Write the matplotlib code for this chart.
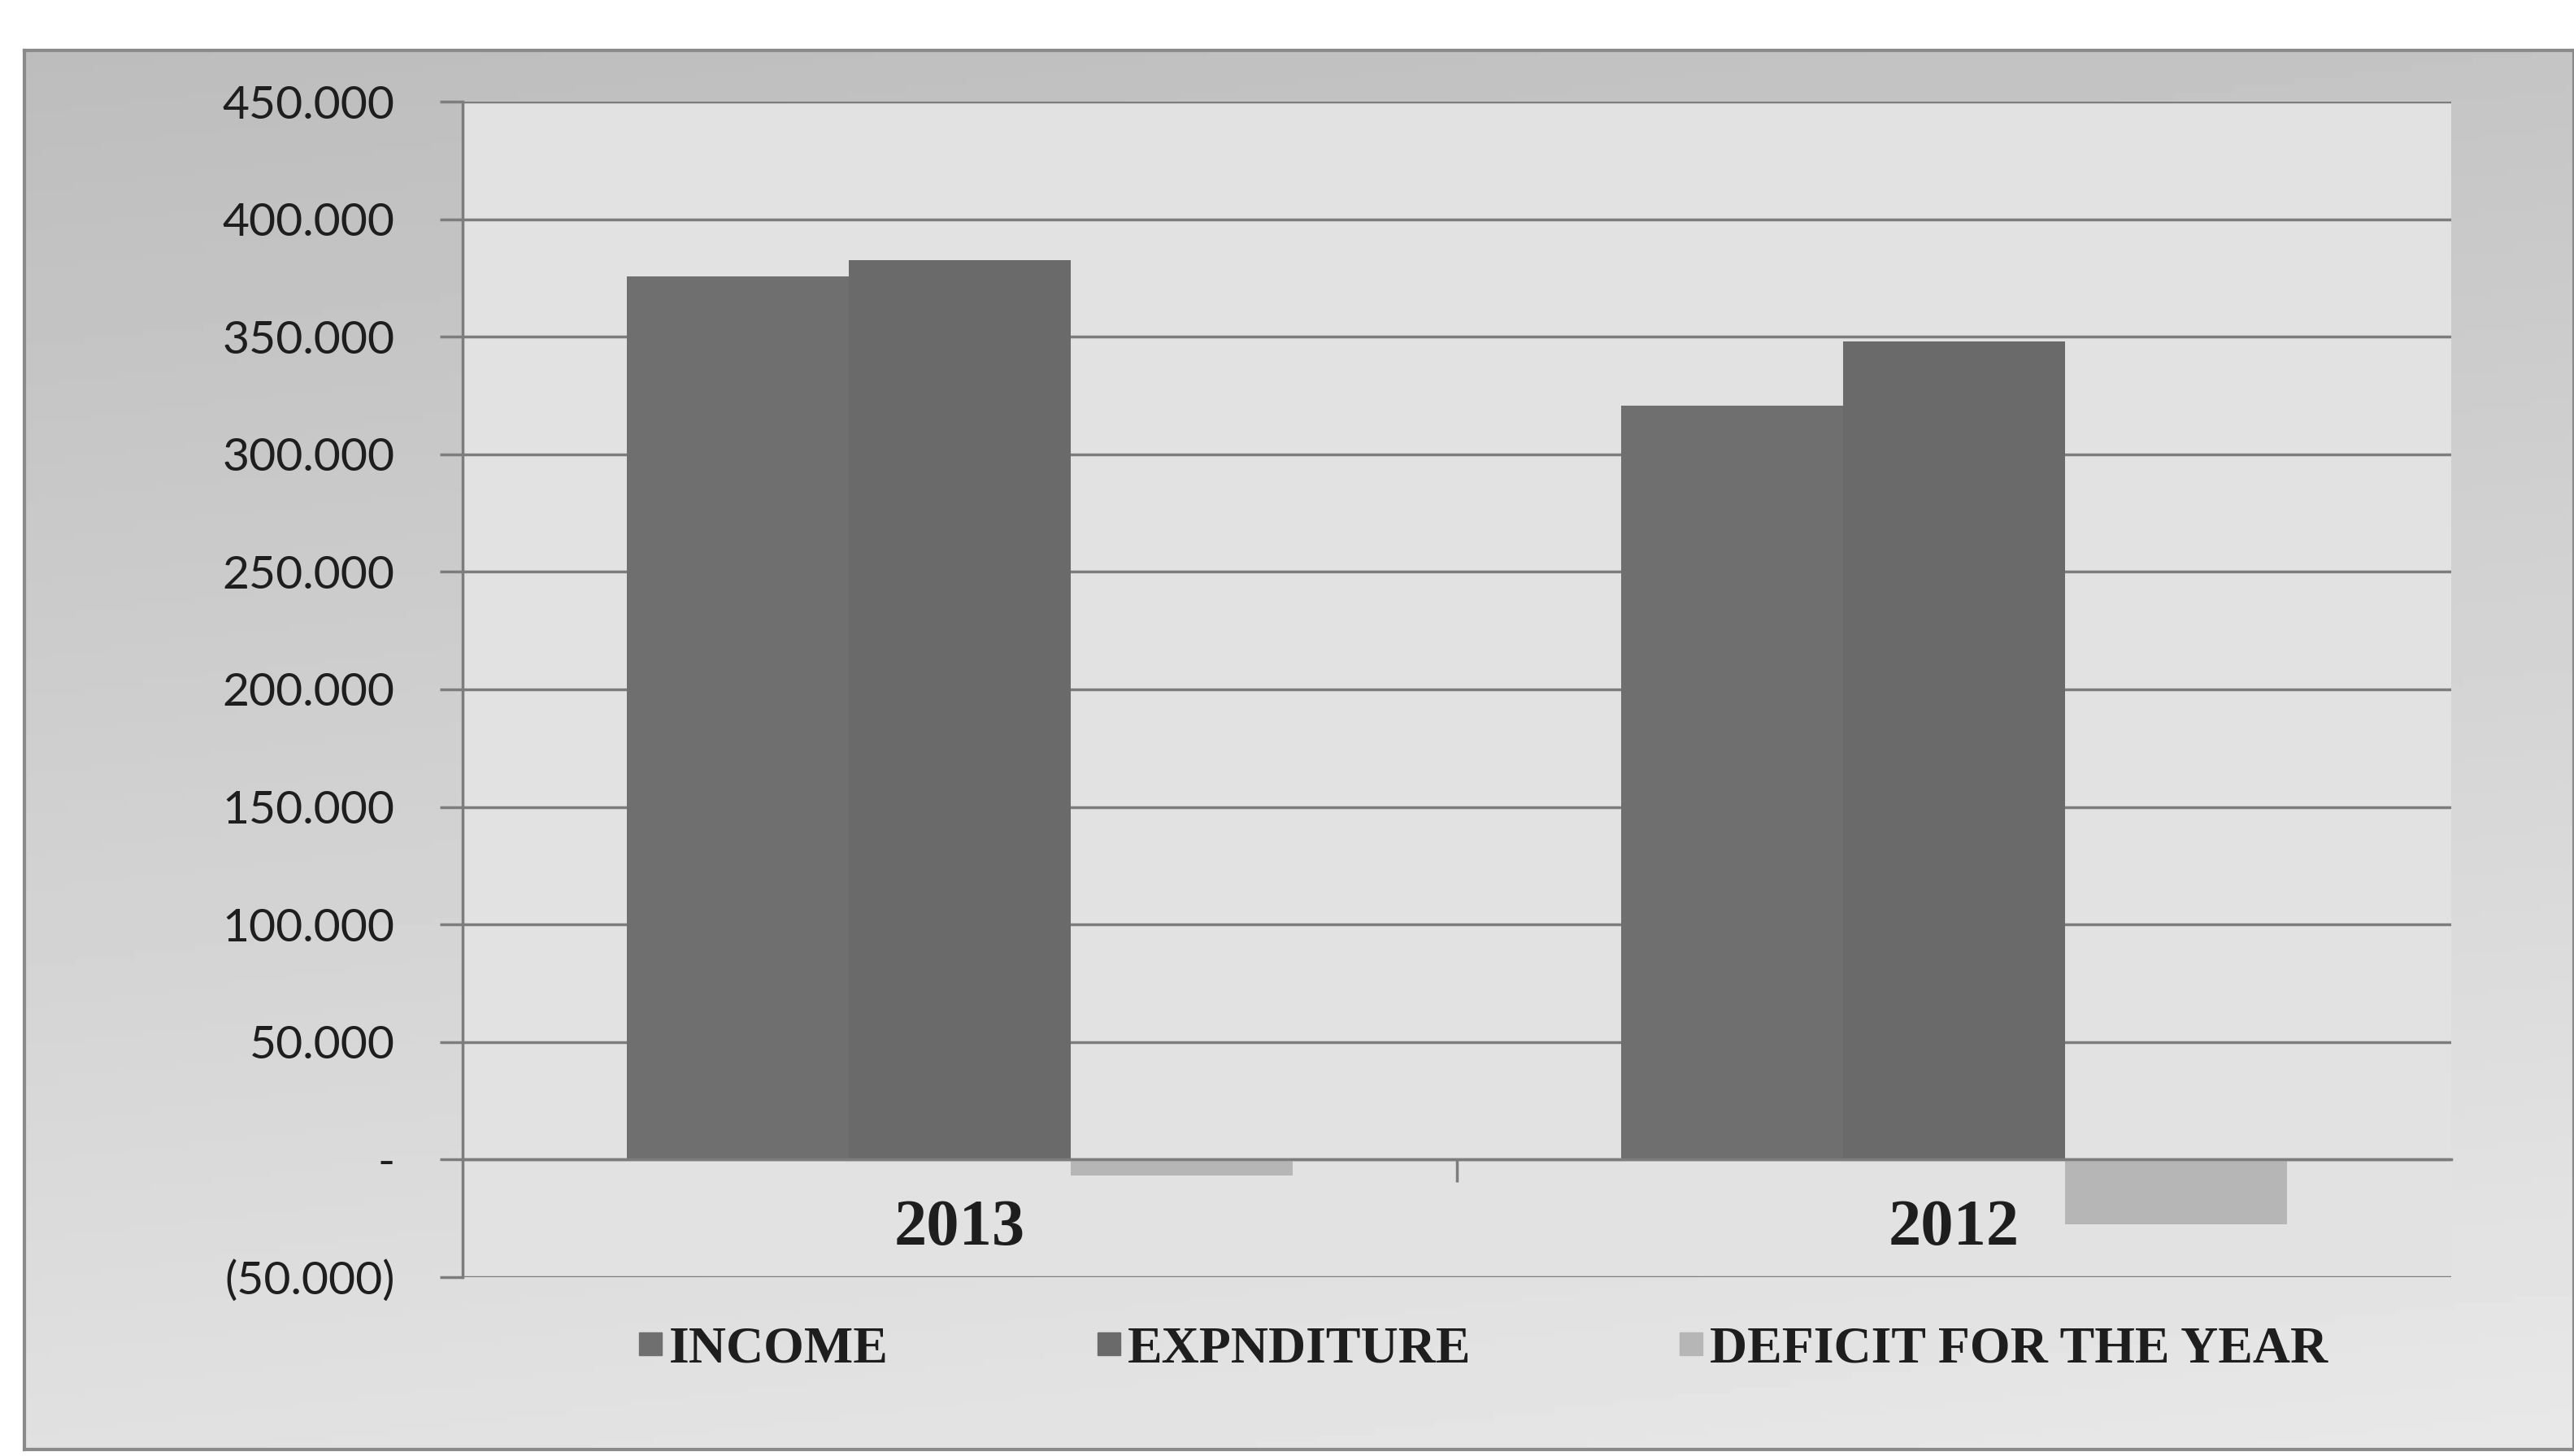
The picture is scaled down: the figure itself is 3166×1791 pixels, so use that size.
import numpy as np
import matplotlib
matplotlib.use("Agg")
import matplotlib.pyplot as plt
from matplotlib.lines import Line2D

categories = ["2013", "2012"]
series_names = ["INCOME", "EXPNDITURE", "DEFICIT FOR THE YEAR"]
income = [375.7, 320.6]
expenditure = [382.6, 348.0]
deficit = [-6.9, -27.4]
yticks = [-50, 0, 50, 100, 150, 200, 250, 300, 350, 400, 450]
ytick_labels = ["(50.000)", "-", "50.000", "100.000", "150.000", "200.000",
                "250.000", "300.000", "350.000", "400.000", "450.000"]

colors = ["#6f6f6f", "#6a6a6a", "#b6b6b6"]

W, H = 3166, 1791
fig = plt.figure(figsize=(W / 100, H / 100), dpi=100, facecolor="white")

# background panel with gradient
bg = fig.add_axes([30 / W, 8 / H, (W - 30) / W, (H - 62 - 8) / H])
gy = np.linspace(0, 1, 200)[:, None]
gx = np.linspace(0, 1, 300)[None, :]
grad = 0.74 + 0.14 * gy + 0.03 * gx
bg.imshow(grad, cmap="gray", vmin=0, vmax=1, aspect="auto",
          extent=[0, 1, 0, 1], origin="upper")
bg.set_xlim(0, 1)
bg.set_ylim(0, 1)
bg.set_xticks([])
bg.set_yticks([])
for s in bg.spines.values():
    s.set_color("#8a8a8a")
    s.set_linewidth(3)

ax = fig.add_axes([569 / W, 1 - 1571 / H, (3015 - 569) / W, (1571 - 125) / H])
ax.set_facecolor("#e2e2e2")

x = np.arange(len(categories))
w = 0.223
ax.bar(x - w, income, w, color=colors[0], zorder=3, label=series_names[0])
ax.bar(x, expenditure, w, color=colors[1], zorder=3, label=series_names[1])
ax.bar(x + w, deficit, w, color=colors[2], zorder=3, label=series_names[2])

ax.set_xlim(-0.5, 1.5)
ax.set_ylim(-50, 450)
ax.set_yticks(yticks)
ax.set_yticklabels(ytick_labels, fontsize=41, family=["Lato", "DejaVu Sans"], color="#1e1e1e")
ax.yaxis.grid(True, color="#7d7d7d", linewidth=2.5, zorder=1)
ax.tick_params(axis="y", length=20, width=2.5, color="#7d7d7d", pad=40)

ax.spines["bottom"].set_position(("data", 0))
ax.spines["bottom"].set_color("#7d7d7d")
ax.spines["bottom"].set_linewidth(2.5)
ax.spines["bottom"].set_zorder(4)
ax.spines["left"].set_color("#7d7d7d")
ax.spines["left"].set_linewidth(2.5)
ax.spines["top"].set_visible(False)
ax.spines["right"].set_visible(False)

ax.set_xticks(x)
ax.set_xticklabels(categories, fontsize=58, family="Liberation Serif",
                   fontweight="bold", color="#1e1e1e")
ax.tick_params(axis="x", which="major", length=0, pad=35)
ax.set_xticks([0.5], minor=True)
ax.tick_params(axis="x", which="minor", length=20, width=2.5, color="#7d7d7d")

handles = [Line2D([0], [0], marker="s", linestyle="none", markersize=20,
                  markerfacecolor=c, markeredgecolor=c) for c in colors]
fig.legend(handles, series_names, loc="center", bbox_to_anchor=(0.576, 0.073),
           ncol=3, frameon=False, handlelength=0.5, handletextpad=0.1,
           columnspacing=4.0,
           prop={"family": "Liberation Serif", "size": 46, "weight": "bold"},
           labelcolor="#1e1e1e")

fig.savefig("out.png", dpi=100, facecolor="white")
